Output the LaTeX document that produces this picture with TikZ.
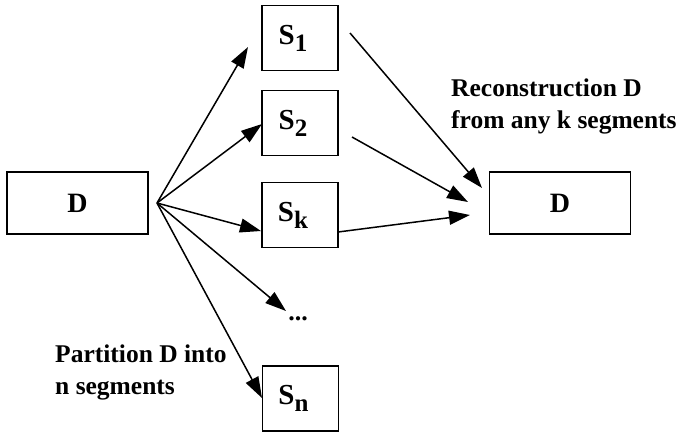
\documentclass[tikz,border=0pt]{standalone}
\usepackage{fontspec}
\setmainfont{Liberation Serif}
\usetikzlibrary{arrows.meta}
\begin{document}
\begin{tikzpicture}[x=1pt,y=-1pt,
  box/.style={draw, line width=1.5pt, inner sep=0pt, font=\fontsize{28}{30}\selectfont\bfseries},
  sbox/.style={box, minimum width=76pt, minimum height=65pt, font=\fontsize{29}{30}\selectfont\bfseries},
  dbox/.style={box, minimum width=141pt, minimum height=62pt},
  lbl/.style={align=left, inner sep=0pt, font=\fontsize{25.5}{32}\selectfont\bfseries},
  arr/.style={line width=1.5pt, -{Triangle[length=21pt,width=14pt]}}]
\useasboundingbox (0,0) rectangle (682,432);
\newcommand{\sub}[1]{\raisebox{-7pt}{\fontsize{25}{25}\selectfont #1}\kern14pt\relax}
\node[dbox] (d) at (77.5,203) {D};
\node[dbox] (dr) at (560,203) {D};
\node[sbox] (s1) at (300,38) {S\sub{1}};
\node[sbox] (s2) at (300,123) {S\sub{2}};
\node[sbox] (sk) at (300,215) {S\sub{k}};
\node[sbox] (sn) at (300.5,398.5) {S\sub{n}};
\node[inner sep=0pt, font=\fontsize{26}{28}\selectfont\bfseries] (dots) at (298,319) {...};
\node[lbl, anchor=west] (rec) at (451,106) {Reconstruction D\\from any k segments};
\node[lbl, anchor=west] (part) at (55,372) {Partition D into\\n segments};
\coordinate (fan) at (157,203);
\coordinate (t1) at (248,47);
\coordinate (t2) at (262,124);
\coordinate (tk) at (261,231);
\coordinate (td) at (286,311);
\coordinate (tn) at (262,398);
\coordinate (a1) at (350,33);
\coordinate (a2) at (352,137);
\coordinate (ak) at (338,232);
\coordinate (b1) at (482,188);
\coordinate (b2) at (468,202);
\coordinate (bk) at (470,215);
\draw[arr] (fan) -- (t1);
\draw[arr] (fan) -- (t2);
\draw[arr] (fan) -- (tk);
\draw[arr] (fan) -- (td);
\draw[arr] (fan) -- (tn);
\draw[arr] (a1) -- (b1);
\draw[arr] (a2) -- (b2);
\draw[arr] (ak) -- (bk);
\end{tikzpicture}
\end{document}
